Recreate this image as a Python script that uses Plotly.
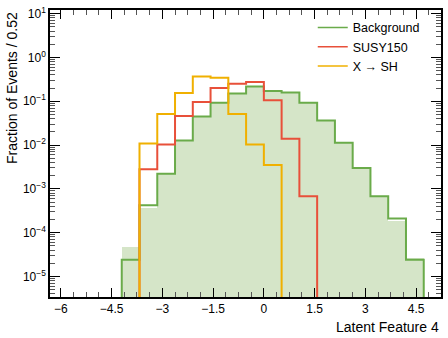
import numpy as np
import plotly.graph_objects as go

# binning: 17 bins of ~0.52 starting at -4.2
bin_start = -4.2
bin_width = 0.525
n_bins = 17

# fraction of events per bin
bkg_fill = [4.7e-5, 3.6e-4, 2.2e-3, 0.0127, 0.045, 0.0925, 0.15, 0.219, 0.172, 0.158,
            0.0925, 0.0365, 0.0113, 0.0030, 6.8e-4, 1.8e-4, 2.6e-5]
bkg_line = [2.4e-5, 4.2e-4, 2.2e-3, 0.0127, 0.045, 0.0925, 0.15, 0.219, 0.172, 0.158,
            0.0925, 0.0365, 0.0113, 0.0030, 6.8e-4, 2.1e-4, 2.4e-5]
susy150 = [0, 0.0028, 0.0103, 0.046, 0.096, 0.20, 0.25, 0.274, 0.106, 0.0139,
           6.8e-4, 0, 0, 0, 0, 0, 0]
x_sh = [0, 0.0109, 0.051, 0.155, 0.366, 0.343, 0.051, 0.0103, 0.0035, 0,
        0, 0, 0, 0, 0, 0, 0]

x_ticks = [-6, -4.5, -3, -1.5, 0, 1.5, 3, 4.5]
x_ticktext = ['\u22126', '\u22124.5', '\u22123', '\u22121.5', '0', '1.5', '3', '4.5']
y_ticks = [1e-5, 1e-4, 1e-3, 1e-2, 1e-1, 1, 10]
y_ticktext = ['10<sup>\u22125</sup>', '10<sup>\u22124</sup>', '10<sup>\u22123</sup>', '10<sup>\u22122</sup>',
              '10<sup>\u22121</sup>', '10<sup>0</sup>', '10<sup>1</sup>']

GREEN = '#6aab4a'
RED = '#e8503a'
YELLOW = '#f0b000'
FILL = '#d5e5c8'
FONT = 'Liberation Sans, Arial, sans-serif'

edges = bin_start + bin_width * np.arange(n_bins + 1)
centers = edges[:-1] + bin_width / 2
floor = 1e-9  # below the visible range, step drops to the axis


def step_xy(vals):
    vals = np.asarray(vals, dtype=float)
    nz = np.nonzero(vals)[0]
    i0, i1 = nz[0], nz[-1]
    xs = [edges[i0]] + list(edges[i0:i1 + 1]) + [edges[i1 + 1]]
    ys = [floor] + list(vals[i0:i1 + 1]) + [floor]
    return xs, ys


fig = go.Figure()
fig.add_trace(go.Bar(x=centers, y=bkg_fill, width=bin_width, marker=dict(color=FILL, line_width=0),
                     showlegend=False, hoverinfo='skip'))

series = [('Background', bkg_line, GREEN), ('SUSY150', susy150, RED), ('X \u2192 SH', x_sh, YELLOW)]
for name, vals, col in series:
    xs, ys = step_xy(vals)
    fig.add_trace(go.Scatter(x=xs, y=ys, mode='lines', line=dict(color=col, width=2, shape='hv'),
                             showlegend=False, hoverinfo='skip'))
# thin legend entries
for name, vals, col in series:
    fig.add_trace(go.Scatter(x=[None], y=[None], mode='lines', line=dict(color=col, width=1.4), name=name))

axis_common = dict(showline=True, linecolor='black', linewidth=1.5, mirror='ticks', ticks='inside',
                   tickcolor='black', showgrid=False, zeroline=False,
                   tickfont=dict(family=FONT, size=12, color='black'))

fig.update_xaxes(range=[-6.32, 5.235], tickvals=x_ticks, ticktext=x_ticktext, ticklen=9, tickwidth=1.2,
                 minor=dict(ticks='inside', dtick=0.375, tick0=-6, ticklen=5, tickcolor='#555', showgrid=False),
                 **axis_common)
fig.update_yaxes(type='log', range=[-5.47, 1.085], tickvals=y_ticks, ticktext=y_ticktext, ticklen=10,
                 tickwidth=1.2,
                 minor=dict(ticks='inside', dtick='D1', ticklen=5, tickcolor='#555', showgrid=False),
                 **axis_common)

fig.add_annotation(text='Fraction of Events / 0.52', textangle=-90, xref='paper', yref='paper',
                   x=0, xshift=-48, xanchor='left', y=1, yanchor='top', showarrow=False,
                   font=dict(family=FONT, size=14, color='black'))
fig.add_annotation(text='Latent Feature 4', xref='paper', yref='paper', x=1, xanchor='right',
                   y=0, yshift=-20, yanchor='top', showarrow=False,
                   font=dict(family=FONT, size=14, color='black'))

fig.update_layout(width=448, height=338, margin=dict(l=50, r=5, t=5, b=41),
                  paper_bgcolor='white', plot_bgcolor='white', bargap=0, hovermode=False,
                  legend=dict(x=0.672, y=0.99, xanchor='left', yanchor='top', bgcolor='rgba(0,0,0,0)',
                              itemwidth=30, font=dict(family=FONT, size=12.5, color='black')),
                  font=dict(family=FONT))

fig.write_html("out.html", config={'displayModeBar': False},
               post_script="document.body.style.margin='0';")
